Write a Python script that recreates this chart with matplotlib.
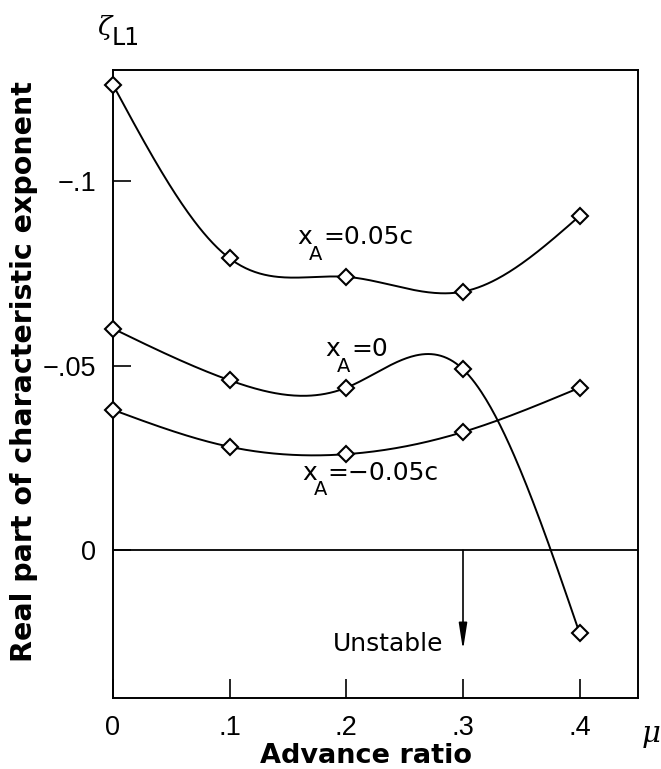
import numpy as np
import matplotlib
matplotlib.use("Agg")
import matplotlib.pyplot as plt

# ---- data ----
mu = [0.0, 0.1, 0.2, 0.3, 0.4]
zeta_pos = [-0.126, -0.079, -0.074, -0.070, -0.0905]   # x_A = 0.05c
zeta_zero = [-0.060, -0.046, -0.044, -0.049, 0.0225]   # x_A = 0
zeta_neg = [-0.038, -0.028, -0.026, -0.032, -0.044]    # x_A = -0.05c
series_rest = ["=0.05c", "=0", "=\u22120.05c"]
label_pos_mu = [0.158, 0.182, 0.162]
label_pos_val = [-0.0828, -0.0525, -0.019]
xticks = [0.0, 0.1, 0.2, 0.3, 0.4]
xticklabels = ["0", ".1", ".2", ".3", ".4"]
yticks = [-0.1, -0.05, 0.0]
yticklabels = ["\u2212.1", "\u2212.05", "0"]


def natural_spline(x, y, n=300):
    x = np.asarray(x, float)
    y = np.asarray(y, float)
    m = len(x)
    h = np.diff(x)
    A = np.zeros((m, m))
    b = np.zeros(m)
    A[0, 0] = 1
    A[-1, -1] = 1
    for i in range(1, m - 1):
        A[i, i - 1] = h[i - 1]
        A[i, i] = 2 * (h[i - 1] + h[i])
        A[i, i + 1] = h[i]
        b[i] = 3 * ((y[i + 1] - y[i]) / h[i] - (y[i] - y[i - 1]) / h[i - 1])
    c = np.linalg.solve(A, b)
    xs = np.linspace(x[0], x[-1], n)
    ys = np.empty_like(xs)
    for k, xv in enumerate(xs):
        i = min(np.searchsorted(x, xv, side="right") - 1, m - 2)
        dx = xv - x[i]
        bi = (y[i + 1] - y[i]) / h[i] - h[i] * (2 * c[i] + c[i + 1]) / 3
        di = (c[i + 1] - c[i]) / (3 * h[i])
        ys[k] = y[i] + bi * dx + c[i] * dx ** 2 + di * dx ** 3
    return xs, ys


W, H = 661, 769
fig = plt.figure(figsize=(W / 100, H / 100), dpi=100)
ax = fig.add_axes([113 / W, 1 - 698 / H, (638 - 113) / W, (698 - 70) / H])

tick_font = "Liberation Sans"
ann_font = "DejaVu Sans"

for ys in (zeta_pos, zeta_zero, zeta_neg):
    sx, sy = natural_spline(mu, ys)
    ax.plot(sx, sy, color="black", lw=1.4, zorder=3)
    ax.plot(mu, ys, linestyle="none", marker="D", ms=8, mfc="white",
            mec="black", mew=1.5, zorder=4, clip_on=False)

ax.axhline(0.0, color="black", lw=1.3, zorder=2)

ax.set_xlim(0, 0.45)
ax.set_ylim(0.04, -0.13)

ax.set_xticks(xticks)
ax.set_xticklabels(xticklabels, fontfamily=tick_font, fontsize=19.5)
ax.set_yticks(yticks)
ax.set_yticklabels(yticklabels, fontfamily=tick_font, fontsize=19.5)
ax.tick_params(axis="x", direction="in", length=14, width=1.2, pad=12)
ax.tick_params(axis="y", direction="in", length=13, width=1.2, pad=12)
for s in ax.spines.values():
    s.set_linewidth(1.4)

ax.set_xlabel("Advance ratio", fontfamily=ann_font, fontweight="bold",
              fontsize=19.5)
ax.xaxis.set_label_coords(0.482, -0.072)
ax.set_ylabel("Real part of characteristic exponent", fontfamily=ann_font,
              fontweight="bold", fontsize=20.5)
ax.yaxis.set_label_coords(-0.143, 0.52)

# curve labels: x, subscript A, then the rest
for mx, vy, rest in zip(label_pos_mu, label_pos_val, series_rest):
    ax.annotate("x", (mx, vy), xytext=(0, 0), textcoords="offset points",
                fontfamily=ann_font, fontsize=18, ha="left", va="baseline")
    ax.annotate("A", (mx, vy), xytext=(8.5, -11), textcoords="offset points",
                fontfamily=ann_font, fontsize=14, ha="left", va="baseline")
    ax.annotate(rest, (mx, vy), xytext=(18.5, 0), textcoords="offset points",
                fontfamily=ann_font, fontsize=18, ha="left", va="baseline")

# Unstable arrow
ax.annotate("", xy=(0.3, 0.027), xytext=(0.3, 0.0),
            arrowprops=dict(arrowstyle="-|>,head_length=1.6,head_width=0.25",
                            mutation_scale=10, color="black", lw=1.2,
                            shrinkA=0, shrinkB=0))
ax.text(0.283, 0.0274, "Unstable", fontfamily=ann_font, fontsize=18,
        ha="right", va="baseline")

# axis symbols
fig.text(97 / W, 1 - 35 / H, "\u03b6", fontfamily="DejaVu Serif", fontstyle="italic",
         fontsize=19, ha="left", va="baseline")
fig.text(112 / W, 1 - 45 / H, "L1", fontfamily=ann_font, fontsize=17,
         ha="left", va="baseline")
fig.text(642 / W, 1 - 734 / H, "\u03bc", fontfamily="DejaVu Serif", fontstyle="italic",
         fontsize=21, ha="left", va="center")

fig.savefig("out.png", dpi=100)
